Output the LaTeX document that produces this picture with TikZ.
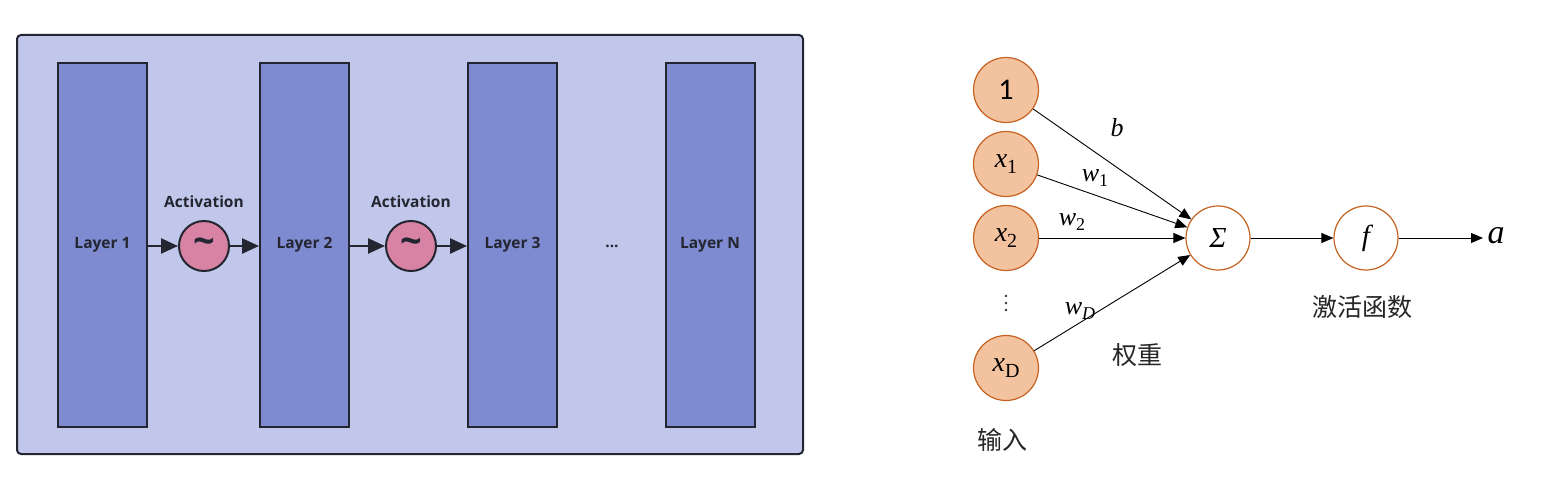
\documentclass[tikz,border=0pt]{standalone}
\usepackage{fontspec}
\setmainfont{Open Sans}
\newfontfamily\cjk{Noto Sans CJK SC}
\newfontfamily\calib{Carlito}
\newfontfamily\mser{Liberation Serif}
\newcommand{\mvar}[1]{{\mser\itshape #1}}
\newcommand{\msub}[3]{\raisebox{-#3}{\mser\fontsize{#2}{#2}\selectfont #1}}
\usetikzlibrary{arrows.meta}
\definecolor{panel}{RGB}{192,199,234}
\definecolor{layerfill}{RGB}{127,139,208}
\definecolor{dark}{RGB}{35,38,48}
\definecolor{actfill}{RGB}{216,131,164}
\definecolor{infill}{RGB}{243,194,158}
\definecolor{orangeline}{RGB}{197,98,34}
\tikzset{
  layerbox/.style={draw=dark, line width=2pt, fill=layerfill, minimum width=89pt, minimum height=364pt, inner sep=0pt,
    font=\fontsize{15.5}{18}\selectfont\bfseries, text=dark},
  actnode/.style={circle, draw=dark, line width=2pt, fill=actfill, minimum size=50pt, inner sep=0pt,
    font=\fontsize{38}{38}\selectfont\bfseries, text=dark},
  actlabel/.style={font=\fontsize{15.5}{18}\selectfont\bfseries, text=dark},
  thickarrow/.style={draw=dark, line width=2.5pt, -{Triangle[length=17pt,width=15pt]}},
  innode/.style={circle, draw=orangeline, line width=1.2pt, fill=infill, minimum size=65pt, inner sep=0pt, font=\fontsize{28}{28}\selectfont},
  opnode/.style={circle, draw=orangeline, line width=1.2pt, fill=white, minimum size=64pt, inner sep=0pt, font=\fontsize{29}{29}\selectfont},
  thinarrow/.style={draw=black, line width=0.9pt, -{Triangle[length=12pt,width=10pt]}},
  wlabel/.style={font=\fontsize{26}{26}\selectfont},
  vdot/.style={circle, fill=black!80, minimum size=2.6pt, inner sep=0pt},
  cnlabel/.style={font=\cjk\fontsize{25}{25}\selectfont, text=black!85}
}
\begin{document}
\begin{tikzpicture}[x=1pt,y=-1pt]
\fill[white] (0,0) rectangle (1544,481);
\useasboundingbox (0,0) rectangle (1544,481);
% left panel
\node[draw=dark, line width=2pt, fill=panel, rounded corners=4pt, minimum width=786pt, minimum height=419pt, inner sep=0pt] (panel) at (410,244.5) {};
\node[layerbox] (l1) at (102.5,245) {Layer 1};
\node[layerbox] (l2) at (304.5,245) {Layer 2};
\node[layerbox] (l3) at (512.5,245) {Layer 3};
\node[layerbox] (ln) at (710,245) {Layer N};
\node[actnode] (a1) at (204,246) {\raisebox{-5pt}{\textasciitilde}};
\node[actnode] (a2) at (411,246) {\raisebox{-5pt}{\textasciitilde}};
\node[actlabel] (t1) at (204,202) {Activation};
\node[actlabel] (t2) at (411,202) {Activation};
\node[actlabel] (dots) at (612,246) {...};
\draw[thickarrow] (l1.east |- a1) -- (a1);
\draw[thickarrow] (a1) -- (l2.west |- a1);
\draw[thickarrow] (l2.east |- a2) -- (a2);
\draw[thickarrow] (a2) -- (l3.west |- a2);
% right: neuron
\node[innode] (one) at (1006,90) {\calib\fontsize{30}{30}\selectfont 1};
\node[innode] (x1) at (1006,164) {\mvar{x}\msub{1}{20}{6pt}};
\node[innode] (x2) at (1006,238) {\mvar{x}\msub{2}{20}{6pt}};
\node[innode] (xd) at (1006,368) {\mvar{x}\msub{D}{20}{6pt}};
\node[vdot] (vd1) at (1006,296) {};
\node[vdot] (vd2) at (1006,303) {};
\node[vdot] (vd3) at (1006,310) {};
\node[opnode] (sum) at (1218,238) {\mvar{Σ}};
\node[opnode] (f) at (1366,238) {\mvar{f}};
\coordinate (out) at (1483,238);
\node[font=\fontsize{34}{34}\selectfont, anchor=west] (a) at (1484,236) {\mvar{a}};
\draw[thinarrow] (one) -- (sum);
\draw[thinarrow] (x1) -- (sum);
\draw[thinarrow] (x2) -- (sum);
\draw[thinarrow] (xd) -- (sum);
\draw[thinarrow] (sum) -- (f);
\draw[thinarrow] (f) -- (out);
\node[wlabel] (lb) at (1117,128) {\mvar{b}};
\node[wlabel] (lw1) at (1095,178) {\mvar{w}\msub{1}{18}{5pt}};
\node[wlabel] (lw2) at (1072,222) {\mvar{w}\msub{2}{18}{5pt}};
\node[wlabel] (lwd) at (1080,311) {\mvar{w}\msub{\itshape D}{18}{5pt}};
\node[cnlabel] (c1) at (1362,307) {激活函数};
\node[cnlabel] (c2) at (1137,355) {权重};
\node[cnlabel] (c3) at (1002,440) {输入};
\end{tikzpicture}
\end{document}
